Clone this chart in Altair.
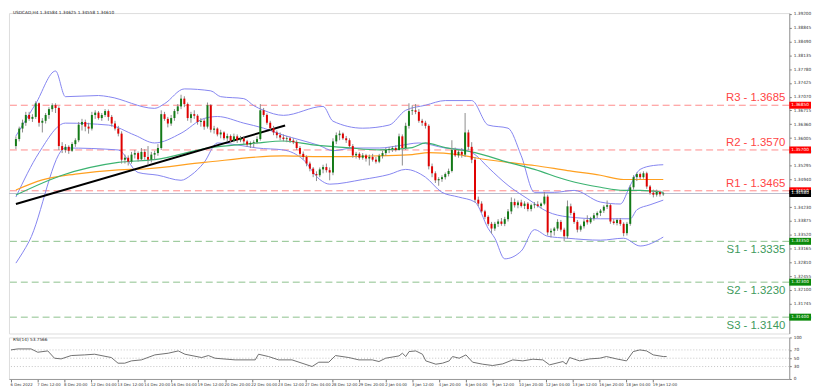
import altair as alt
import pandas as pd

# ---------------- data ----------------
OPEN = [
    1.3580, 1.3598, 1.3625, 1.3640, 1.3660, 1.3650, 1.3655, 1.3690, 1.3640, 1.3645,
    1.3660, 1.3675, 1.3685, 1.3678, 1.3580, 1.3570, 1.3578, 1.3568, 1.3585, 1.3595,
    1.3635, 1.3642, 1.3630, 1.3625, 1.3660, 1.3666, 1.3652, 1.3660, 1.3670, 1.3655,
    1.3638, 1.3625, 1.3612, 1.3545, 1.3550, 1.3540, 1.3558, 1.3562, 1.3546, 1.3565,
    1.3552, 1.3545, 1.3558, 1.3562, 1.3575, 1.3662, 1.3650, 1.3638, 1.3652, 1.3670,
    1.3682, 1.3702, 1.3688, 1.3652, 1.3662, 1.3658, 1.3642, 1.3645, 1.3630, 1.3685,
    1.3622, 1.3625, 1.3610, 1.3615, 1.3600, 1.3606, 1.3594, 1.3605, 1.3595, 1.3600,
    1.3592, 1.3584, 1.3588, 1.3590, 1.3598, 1.3672, 1.3660, 1.3640, 1.3626, 1.3615,
    1.3608, 1.3602, 1.3598, 1.3600, 1.3594, 1.3590, 1.3575, 1.3560, 1.3552, 1.3535,
    1.3522, 1.3508, 1.3505, 1.3520, 1.3526, 1.3518, 1.3512, 1.3592, 1.3608, 1.3612,
    1.3600, 1.3595, 1.3580, 1.3556, 1.3560, 1.3550, 1.3556, 1.3548, 1.3552, 1.3545,
    1.3540, 1.3555, 1.3562, 1.3570, 1.3572, 1.3575, 1.3570, 1.3605, 1.3575, 1.3632,
    1.3670, 1.3672, 1.3668, 1.3645, 1.3640, 1.3632, 1.3528, 1.3510, 1.3492, 1.3495,
    1.3500, 1.3508, 1.3516, 1.3570, 1.3556, 1.3565, 1.3558, 1.3615, 1.3578, 1.3545,
    1.3442, 1.3432, 1.3412, 1.3398, 1.3380, 1.3368, 1.3380, 1.3386, 1.3380, 1.3392,
    1.3412, 1.3436, 1.3428, 1.3435, 1.3426, 1.3432, 1.3418, 1.3428, 1.3430, 1.3426,
    1.3432, 1.3450, 1.3358, 1.3362, 1.3368, 1.3385, 1.3365, 1.3348, 1.3425, 1.3408,
    1.3385, 1.3365, 1.3374, 1.3390, 1.3384, 1.3394, 1.3402, 1.3408, 1.3414, 1.3424,
    1.3428, 1.3386, 1.3382, 1.3390, 1.3380, 1.3356, 1.3380, 1.3474, 1.3500, 1.3508,
    1.3500, 1.3510, 1.3476, 1.3460, 1.3455, 1.3462, 1.3456,
]
HIGH = [
    1.3605, 1.3630, 1.3648, 1.3668, 1.3668, 1.3662, 1.3695, 1.3692, 1.3652, 1.3665,
    1.3680, 1.3690, 1.3690, 1.3682, 1.3590, 1.3585, 1.3582, 1.3590, 1.3600, 1.3642,
    1.3650, 1.3648, 1.3640, 1.3668, 1.3672, 1.3670, 1.3665, 1.3675, 1.3674, 1.3660,
    1.3645, 1.3632, 1.3618, 1.3558, 1.3556, 1.3565, 1.3570, 1.3566, 1.3575, 1.3572,
    1.3580, 1.3565, 1.3568, 1.3585, 1.3672, 1.3668, 1.3655, 1.3660, 1.3675, 1.3688,
    1.3712, 1.3708, 1.3692, 1.3668, 1.3672, 1.3662, 1.3652, 1.3650, 1.3692, 1.3688,
    1.3632, 1.3628, 1.3622, 1.3618, 1.3612, 1.3610, 1.3612, 1.3610, 1.3606, 1.3605,
    1.3596, 1.3592, 1.3595, 1.3605, 1.3688, 1.3678, 1.3664, 1.3645, 1.3632, 1.3620,
    1.3615, 1.3610, 1.3606, 1.3604, 1.3600, 1.3595, 1.3580, 1.3566, 1.3556, 1.3540,
    1.3526, 1.3515, 1.3525, 1.3532, 1.3535, 1.3525, 1.3600, 1.3615, 1.3620, 1.3615,
    1.3606, 1.3600, 1.3585, 1.3565, 1.3564, 1.3562, 1.3560, 1.3558, 1.3560, 1.3552,
    1.3560, 1.3568, 1.3575, 1.3578, 1.3580, 1.3582, 1.3612, 1.3610, 1.3640, 1.3690,
    1.3685, 1.3688, 1.3675, 1.3650, 1.3645, 1.3636, 1.3535, 1.3515, 1.3500, 1.3505,
    1.3512, 1.3522, 1.3595, 1.3576, 1.3570, 1.3575, 1.3665, 1.3622, 1.3590, 1.3552,
    1.3450, 1.3438, 1.3416, 1.3402, 1.3385, 1.3385, 1.3392, 1.3395, 1.3398, 1.3418,
    1.3448, 1.3445, 1.3440, 1.3442, 1.3438, 1.3436, 1.3432, 1.3436, 1.3438, 1.3435,
    1.3462, 1.3455, 1.3368, 1.3372, 1.3392, 1.3390, 1.3370, 1.3440, 1.3432, 1.3412,
    1.3390, 1.3378, 1.3392, 1.3402, 1.3398, 1.3408, 1.3412, 1.3418, 1.3428, 1.3440,
    1.3432, 1.3392, 1.3394, 1.3395, 1.3384, 1.3385, 1.3480, 1.3505, 1.3512, 1.3512,
    1.3515, 1.3514, 1.3480, 1.3468, 1.3468, 1.3466, 1.3462,
]
LOW = [
    1.3572, 1.3592, 1.3615, 1.3632, 1.3645, 1.3642, 1.3650, 1.3630, 1.3615, 1.3638,
    1.3650, 1.3668, 1.3665, 1.3570, 1.3562, 1.3563, 1.3560, 1.3565, 1.3578, 1.3590,
    1.3620, 1.3618, 1.3612, 1.3620, 1.3650, 1.3648, 1.3645, 1.3655, 1.3645, 1.3630,
    1.3620, 1.3605, 1.3535, 1.3535, 1.3530, 1.3535, 1.3548, 1.3540, 1.3542, 1.3545,
    1.3532, 1.3538, 1.3545, 1.3555, 1.3570, 1.3645, 1.3628, 1.3632, 1.3645, 1.3662,
    1.3675, 1.3680, 1.3645, 1.3640, 1.3650, 1.3635, 1.3630, 1.3622, 1.3625, 1.3615,
    1.3612, 1.3605, 1.3600, 1.3595, 1.3592, 1.3588, 1.3590, 1.3588, 1.3590, 1.3585,
    1.3578, 1.3575, 1.3576, 1.3585, 1.3594, 1.3655, 1.3635, 1.3620, 1.3608, 1.3600,
    1.3595, 1.3592, 1.3590, 1.3588, 1.3585, 1.3570, 1.3555, 1.3545, 1.3528, 1.3515,
    1.3500, 1.3490, 1.3500, 1.3510, 1.3512, 1.3492, 1.3505, 1.3585, 1.3595, 1.3596,
    1.3588, 1.3575, 1.3550, 1.3548, 1.3545, 1.3545, 1.3540, 1.3530, 1.3540, 1.3535,
    1.3536, 1.3548, 1.3555, 1.3562, 1.3565, 1.3566, 1.3568, 1.3530, 1.3570, 1.3625,
    1.3660, 1.3662, 1.3640, 1.3632, 1.3625, 1.3520, 1.3500, 1.3485, 1.3478, 1.3488,
    1.3494, 1.3502, 1.3512, 1.3552, 1.3550, 1.3550, 1.3552, 1.3570, 1.3536, 1.3435,
    1.3425, 1.3408, 1.3392, 1.3375, 1.3355, 1.3362, 1.3372, 1.3375, 1.3374, 1.3386,
    1.3405, 1.3422, 1.3420, 1.3422, 1.3418, 1.3412, 1.3412, 1.3420, 1.3422, 1.3420,
    1.3428, 1.3350, 1.3345, 1.3350, 1.3362, 1.3360, 1.3335, 1.3342, 1.3402, 1.3380,
    1.3358, 1.3360, 1.3368, 1.3378, 1.3380, 1.3388, 1.3395, 1.3400, 1.3408, 1.3418,
    1.3380, 1.3378, 1.3376, 1.3375, 1.3348, 1.3350, 1.3375, 1.3468, 1.3490, 1.3495,
    1.3496, 1.3470, 1.3455, 1.3448, 1.3450, 1.3450, 1.3452,
]
CLOSE = [
    1.3598, 1.3625, 1.3640, 1.3660, 1.3650, 1.3655, 1.3690, 1.3640, 1.3645, 1.3660,
    1.3675, 1.3685, 1.3678, 1.3580, 1.3570, 1.3578, 1.3568, 1.3585, 1.3595, 1.3635,
    1.3642, 1.3630, 1.3625, 1.3660, 1.3666, 1.3652, 1.3660, 1.3670, 1.3655, 1.3638,
    1.3625, 1.3612, 1.3545, 1.3550, 1.3540, 1.3558, 1.3562, 1.3546, 1.3565, 1.3552,
    1.3545, 1.3558, 1.3562, 1.3575, 1.3662, 1.3650, 1.3638, 1.3652, 1.3670, 1.3682,
    1.3702, 1.3688, 1.3652, 1.3662, 1.3658, 1.3642, 1.3645, 1.3630, 1.3685, 1.3622,
    1.3625, 1.3610, 1.3615, 1.3600, 1.3606, 1.3594, 1.3605, 1.3595, 1.3600, 1.3592,
    1.3584, 1.3588, 1.3590, 1.3598, 1.3672, 1.3660, 1.3640, 1.3626, 1.3615, 1.3608,
    1.3602, 1.3598, 1.3600, 1.3594, 1.3590, 1.3575, 1.3560, 1.3552, 1.3535, 1.3522,
    1.3508, 1.3505, 1.3520, 1.3526, 1.3518, 1.3512, 1.3592, 1.3608, 1.3612, 1.3600,
    1.3595, 1.3580, 1.3556, 1.3560, 1.3550, 1.3556, 1.3548, 1.3552, 1.3545, 1.3540,
    1.3555, 1.3562, 1.3570, 1.3572, 1.3575, 1.3570, 1.3605, 1.3575, 1.3632, 1.3670,
    1.3672, 1.3668, 1.3645, 1.3640, 1.3632, 1.3528, 1.3510, 1.3492, 1.3495, 1.3500,
    1.3508, 1.3516, 1.3570, 1.3556, 1.3565, 1.3558, 1.3615, 1.3578, 1.3545, 1.3442,
    1.3432, 1.3412, 1.3398, 1.3380, 1.3368, 1.3380, 1.3386, 1.3380, 1.3392, 1.3412,
    1.3436, 1.3428, 1.3435, 1.3426, 1.3432, 1.3418, 1.3428, 1.3430, 1.3426, 1.3432,
    1.3450, 1.3358, 1.3362, 1.3368, 1.3385, 1.3365, 1.3348, 1.3425, 1.3408, 1.3385,
    1.3365, 1.3374, 1.3386, 1.3384, 1.3394, 1.3402, 1.3408, 1.3414, 1.3424, 1.3428,
    1.3386, 1.3382, 1.3390, 1.3380, 1.3356, 1.3380, 1.3474, 1.3500, 1.3508, 1.3500,
    1.3510, 1.3476, 1.3460, 1.3455, 1.3462, 1.3456, 1.3458,
]

BB_UP_I = [0, 6, 12, 15, 25, 28, 42, 45, 51, 59, 62, 69, 72, 75, 81, 93, 96, 105, 113, 118,
           124, 130, 138, 143, 149, 153, 157, 163, 169, 177, 183, 186, 189, 193, 196]
BB_UP = [1.3606, 1.3689, 1.3773, 1.3707, 1.3710, 1.3707, 1.3677, 1.3689, 1.3727, 1.3722,
         1.3707, 1.3702, 1.3684, 1.3672, 1.3659, 1.3682, 1.3644, 1.3626, 1.3634, 1.3672,
         1.3685, 1.3697, 1.3697, 1.3634, 1.3626, 1.3555, 1.3461, 1.3461, 1.3466, 1.3436,
         1.3431, 1.3479, 1.3520, 1.3530, 1.3532]
BB_MID_I = [0, 7, 15, 28, 36, 42, 50, 57, 61, 69, 75, 81, 86, 92, 96, 102, 110, 116, 122,
            130, 136, 139, 143, 149, 155, 161, 167, 177, 186, 188, 192, 196]
BB_MID = [1.3449, 1.3563, 1.3639, 1.3634, 1.3608, 1.3588, 1.3613, 1.3651, 1.3656, 1.3639,
          1.3626, 1.3608, 1.3596, 1.3581, 1.3568, 1.3575, 1.3575, 1.3581, 1.3588, 1.3575,
          1.3570, 1.3558, 1.3525, 1.3479, 1.3444, 1.3411, 1.3398, 1.3393, 1.3393, 1.3416,
          1.3429, 1.3441]
BB_LO_I = [0, 4, 15, 31, 37, 43, 50, 53, 57, 61, 67, 73, 81, 87, 92, 95, 105, 113, 118,
           124, 129, 134, 139, 143, 145, 148, 153, 157, 161, 167, 177, 184, 189, 196]
BB_LO = [1.3279, 1.3335, 1.3575, 1.3570, 1.3512, 1.3505, 1.3492, 1.3505, 1.3538, 1.3588,
         1.3583, 1.3575, 1.3570, 1.3545, 1.3494, 1.3482, 1.3494, 1.3507, 1.3520, 1.3500,
         1.3461, 1.3449, 1.3436, 1.3368, 1.3343, 1.3290, 1.3310, 1.3365, 1.3348, 1.3343,
         1.3338, 1.3343, 1.3323, 1.3346]
MA_GREEN_I = [0, 14, 31, 42, 59, 67, 73, 81, 90, 100, 110, 120, 124, 130, 136, 139, 149,
              157, 167, 177, 184, 189, 196]
MA_GREEN = [1.3454, 1.3505, 1.3538, 1.3545, 1.3576, 1.3583, 1.3588, 1.3593, 1.3583, 1.3576,
            1.3570, 1.3576, 1.3588, 1.3576, 1.3568, 1.3563, 1.3538, 1.3520, 1.3492, 1.3474,
            1.3466, 1.3466, 1.3461]
MA_ORANGE_I = [0, 8, 18, 31, 39, 57, 81, 90, 100, 110, 120, 125, 134, 139, 149, 157, 167,
               177, 184, 189, 196]
MA_ORANGE = [1.3467, 1.3493, 1.3508, 1.3519, 1.3521, 1.3538, 1.3555, 1.3553, 1.3553, 1.3555,
             1.3558, 1.3563, 1.3558, 1.3550, 1.3538, 1.3530, 1.3517, 1.3505, 1.3494, 1.3494,
             1.3494]
TREND_I = [0, 81.5]
TREND = [1.3431, 1.3633]

RSI_I = [0, 2, 6, 8, 11, 13, 15, 18, 22, 25, 30, 32, 34, 36, 39, 43, 47, 50, 52, 57, 59, 61,
         67, 73, 74, 77, 80, 84, 87, 90, 92, 95, 97, 101, 104, 108, 110, 112, 116, 117, 118,
         119, 121, 123, 124, 127, 129, 131, 132, 134, 136, 138, 141, 144, 147, 150, 153, 156,
         159, 161, 165, 166, 167, 170, 173, 176, 178, 181, 184, 186, 188, 190, 192, 195, 196]
RSI = [70, 72.4, 72.4, 64.4, 67.6, 50, 48.4, 56.4, 58, 59.6, 51.6, 38, 38, 43.6, 46, 58, 62,
       67.6, 59.6, 51.6, 56.4, 50, 46, 46, 59.6, 54, 46, 46, 38, 30, 40.4, 40.4, 56.4, 51.6,
       46, 46, 42, 50, 55.6, 62, 54, 66, 67.6, 59.6, 43.6, 35.6, 38, 43.6, 54, 50, 58, 40.4,
       35.6, 32.4, 36.4, 46, 43.6, 47.6, 46, 34, 42, 35.6, 51.6, 43.6, 48.4, 50, 54, 48.4,
       43.6, 66, 70, 67.6, 58, 54, 54]

LEVEL_NAMES = ["R3", "R2", "R1", "S1", "S2", "S3"]
LEVELS = [1.3685, 1.3570, 1.3465, 1.3335, 1.3230, 1.3140]
LAST_PRICE = 1.3458

PRICE_TICKS = [1.39200, 1.38845, 1.38490, 1.38135, 1.37780, 1.37425, 1.37070, 1.36715,
               1.36360, 1.36005, 1.35650, 1.35295, 1.34940, 1.34585, 1.34230, 1.33875,
               1.33520, 1.33165, 1.32810, 1.32455, 1.32100, 1.31745, 1.31390]
TIME_LABELS = ["6 Dec 2022", "7 Dec 12:00", "8 Dec 20:00", "12 Dec 04:00", "13 Dec 12:00",
               "14 Dec 20:00", "16 Dec 04:00", "19 Dec 12:00", "20 Dec 20:00", "22 Dec 04:00",
               "23 Dec 12:00", "27 Dec 04:00", "28 Dec 12:00", "29 Dec 20:00", "2 Jan 04:00",
               "3 Jan 12:00", "4 Jan 20:00", "6 Jan 04:00", "9 Jan 12:00", "10 Jan 20:00",
               "12 Jan 04:00", "13 Jan 12:00", "16 Jan 20:00", "18 Jan 04:00", "19 Jan 12:00"]
TITLE = "USDCAD,H4  1.34584 1.34625 1.34558 1.34610"
RSI_TITLE = "RSI(14) 53.7566"

# ---------------- layout / style ----------------
W, H_MAIN, H_RSI = 789, 324, 42
XS = alt.Scale(domain=[-0.6, 232.65], nice=False, zero=False)
YS = alt.Scale(domain=[1.3098, 1.3922], nice=False, zero=False)
TINY = 4.3
TINY_X = 3.9
YAX = alt.Axis(orient="right", values=PRICE_TICKS, format=".5f", labelFontSize=TINY,
               labelColor="#333", tickSize=2, tickColor="#777", domainColor="#999",
               labelPadding=2, grid=False, title=None, labelFont="DejaVu Sans")


def X(field="i"):
    return alt.X(f"{field}:Q", scale=XS, axis=None, title=None)


def Y(field):
    return alt.Y(f"{field}:Q", scale=YS, axis=YAX, title=None)


candles = pd.DataFrame({"i": list(range(len(OPEN))), "open": OPEN, "high": HIGH,
                        "low": LOW, "close": CLOSE})
candles["dir"] = ["up" if c >= o else "down" for o, c in zip(OPEN, CLOSE)]

levels = pd.DataFrame({"name": LEVEL_NAMES, "v": LEVELS})
levels["label"] = [f"{n} - {v:.4f}" for n, v in zip(LEVEL_NAMES, LEVELS)]
levels["box"] = [f"{v:.5f}" for v in LEVELS]
levels["kind"] = [n[0] for n in LEVEL_NAMES]

r_lv = levels[levels.kind == "R"]
s_lv = levels[levels.kind == "S"]

r_rules = alt.Chart(r_lv).mark_rule(color="#ff8a8a", strokeWidth=1, strokeDash=[7, 4]).encode(y=Y("v"))
s_rules = alt.Chart(s_lv).mark_rule(color="#8cc08c", strokeWidth=1, strokeDash=[7, 4]).encode(y=Y("v"))

last_df = pd.DataFrame({"v": [LAST_PRICE], "box": [f"{LAST_PRICE:.5f}"]})
last_rule = alt.Chart(last_df).mark_rule(color="#b8bccc", strokeWidth=1).encode(y=Y("v"))


def line(xs, ys, color, width=1.0, interp="monotone"):
    df = pd.DataFrame({"i": xs, "v": ys})
    return alt.Chart(df).mark_line(color=color, strokeWidth=width, interpolate=interp).encode(
        x=X(), y=Y("v"))


bb_up = line(BB_UP_I, BB_UP, "#8585f0")
bb_mid = line(BB_MID_I, BB_MID, "#8585f0")
bb_lo = line(BB_LO_I, BB_LO, "#8585f0")
ma_g = line(MA_GREEN_I, MA_GREEN, "#3cb371", 1.2)
ma_o = line(MA_ORANGE_I, MA_ORANGE, "#ffa020", 1.2)
trend = line(TREND_I, TREND, "#000000", 2.0, "linear")

wicks = alt.Chart(candles).mark_rule(color="#8c8c8c", strokeWidth=1).encode(
    x=X(), y=Y("low"), y2="high")
bodies = alt.Chart(candles).mark_bar(size=2).encode(
    x=X(), y=Y("open"), y2="close",
    color=alt.Color("dir:N", scale=alt.Scale(domain=["up", "down"], range=["#137a17", "#e00000"]),
                    legend=None))

r_text = alt.Chart(r_lv).mark_text(align="right", baseline="bottom", dy=-2, fontSize=11.5,
                                   font="Liberation Sans", color="#ff4545").encode(
    x=alt.value(785), y=Y("v"), text="label:N")
s_text = alt.Chart(s_lv).mark_text(align="right", baseline="top", dy=3, fontSize=11.5,
                                   font="Liberation Sans", color="#3d9a5c").encode(
    x=alt.value(785), y=Y("v"), text="label:N")

BOX = "M-1,-0.32L1,-0.32L1,0.32L-1,0.32Z"
r_box = alt.Chart(r_lv).mark_point(shape=BOX, size=484, filled=True, opacity=1,
                                   color="#ff0000", strokeWidth=0).encode(x=alt.value(800), y=Y("v"))
s_box = alt.Chart(s_lv).mark_point(shape=BOX, size=484, filled=True, opacity=1,
                                   color="#0a8a0a", strokeWidth=0).encode(x=alt.value(800), y=Y("v"))
k_box = alt.Chart(last_df).mark_point(shape=BOX, size=484, filled=True, opacity=1,
                                      color="#000000", strokeWidth=0).encode(x=alt.value(800), y=Y("v"))
box_txt = alt.Chart(pd.concat([levels[["v", "box"]], last_df])).mark_text(
    fontSize=TINY, color="white", baseline="middle", align="center", font="DejaVu Sans").encode(
    x=alt.value(800), y=Y("v"), text="box:N")

title = alt.Chart(pd.DataFrame({"t": [TITLE]})).mark_text(
    align="left", baseline="top", fontSize=TINY, color="#222", font="DejaVu Sans").encode(
    x=alt.value(4), y=alt.value(-2), text="t:N")

main = alt.layer(r_rules, s_rules, last_rule, bb_up, bb_mid, bb_lo, ma_o, ma_g, trend,
                 wicks, bodies, r_text, s_text, r_box, s_box, k_box, box_txt, title).properties(
    width=W, height=H_MAIN)

# ---------------- RSI panel ----------------
RX = alt.Axis(values=list(range(0, 193, 8)),
              labelExpr="[" + ",".join(f"'{s}'" for s in TIME_LABELS) + "][round(datum.value/8)]",
              labelAlign="left", labelFontSize=TINY_X, labelColor="#333", tickSize=3,
              tickColor="#777", domainColor="#999", labelPadding=1, grid=False, title=None,
              labelOverlap=False, labelFlush=False, labelBound=False, labelFont="DejaVu Sans",
              labelOffset=-1)
RYS = alt.Scale(domain=[0, 100], nice=False, zero=False)
RY = alt.Axis(orient="right", values=[0, 30, 50, 70, 100], labelFontSize=TINY, labelColor="#333",
              tickSize=2, tickColor="#777", domainColor="#999", labelPadding=2, grid=False,
              title=None, labelFont="DejaVu Sans")

rsi_df = pd.DataFrame({"i": RSI_I, "v": RSI})
guides = alt.Chart(pd.DataFrame({"g": [30, 50, 70]})).mark_rule(
    color="#b5b5b5", strokeWidth=0.8, strokeDash=[1, 2]).encode(
    y=alt.Y("g:Q", scale=RYS, axis=RY, title=None))
rsi_line = alt.Chart(rsi_df).mark_line(color="#707070", strokeWidth=1).encode(
    x=alt.X("i:Q", scale=XS, axis=RX, title=None),
    y=alt.Y("v:Q", scale=RYS, axis=RY, title=None))
rsi_title = alt.Chart(pd.DataFrame({"t": [RSI_TITLE]})).mark_text(
    align="left", baseline="top", fontSize=TINY, color="#222", font="DejaVu Sans").encode(
    x=alt.value(4), y=alt.value(1), text="t:N")

rsi = alt.layer(guides, rsi_line, rsi_title).properties(width=W, height=H_RSI)

chart = alt.vconcat(main, rsi, spacing=0).properties(
    padding={"left": 0, "top": 0, "right": 0, "bottom": 0}
).configure_view(stroke="#9a9a9a", strokeWidth=1).configure(background="white")

chart.save("out.html", embed_options={"renderer": "svg", "actions": False})
